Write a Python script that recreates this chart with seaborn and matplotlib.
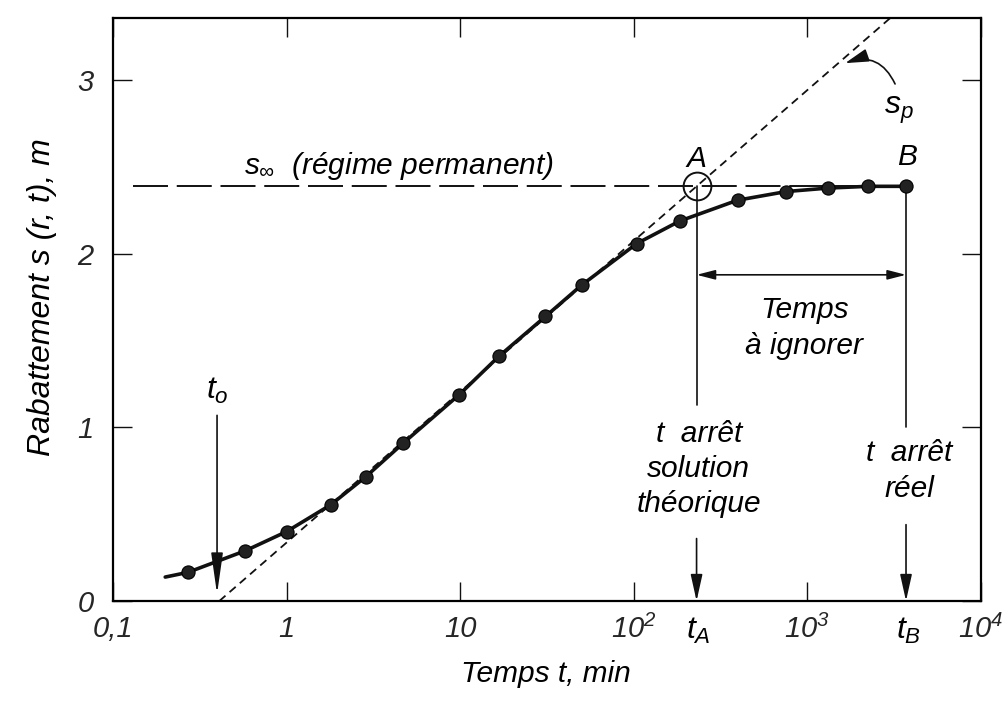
import matplotlib
matplotlib.use("Agg")
import matplotlib.pyplot as plt
from matplotlib import font_manager
import pandas as pd
import seaborn as sns

# Drawdown readings of the pumping test (time in min, drawdown in m)
t_obs = [0.27, 0.58, 1.0, 1.8, 2.85, 4.7, 9.9, 16.7, 31, 50, 104, 184, 396, 757, 1320, 2240, 3700]
s_obs = [0.165, 0.29, 0.40, 0.555, 0.715, 0.91, 1.19, 1.41, 1.64, 1.82, 2.06, 2.19, 2.31, 2.36, 2.38, 2.39, 2.39]

# start of the fitted drawdown curve
t_curve_start = 0.2
s_curve_start = 0.138

# steady-state drawdown and characteristic times
s_inf = 2.39
t_inf_start = 0.13
t0 = 0.41
tA = 230
tB = t_obs[-1]

x_ticks = [0.1, 1, 10, 100, 1000, 10000]
x_tick_labels = ["0,1", "1", "10", r"$10^{2}$", r"$10^{3}$", r"$10^{4}$"]
y_ticks = [0, 1, 2, 3]
y_tick_labels = ["0", "1", "2", "3"]

installed = {f.name for f in font_manager.fontManager.ttflist}
candidates = ["Liberation Sans", "DejaVu Sans"]
FONT = next(c for c in candidates if c in installed)

sns.set_theme(style="ticks")
plt.rcParams.update({
    "font.family": [FONT, "DejaVu Sans"],
    "font.style": "italic",
    "mathtext.fontset": "custom",
    "mathtext.rm": FONT + ":italic",
    "mathtext.it": FONT + ":italic",
    "mathtext.bf": FONT + ":italic:bold",
    "mathtext.sf": FONT + ":italic",
    "axes.linewidth": 1.6,
    "axes.edgecolor": "black",
    "text.color": "black",
})

INK = "#111111"
fig = plt.figure(figsize=(10.05, 7.04), dpi=100)
ax = fig.add_axes([0.1124, 0.1463, 0.8637, 0.8281])
ax.set_xscale("log")
ax.set_xlim(0.1, 1e4)
ax.set_ylim(0, 3.36)

curve = pd.DataFrame({"t": [t_curve_start] + t_obs, "s": [s_curve_start] + s_obs})
obs = pd.DataFrame({"t": t_obs, "s": s_obs})

# Jacob straight line s_p through t0 and A
ax.axline((t0, 0), (tA, s_inf), color=INK, lw=1.3, ls=(0, (4.5, 3)), zorder=2)
# steady-state level
ax.plot([t_inf_start, tB], [s_inf, s_inf], color=INK, lw=1.4, ls=(0, (18, 4.5)), zorder=2)

sns.lineplot(data=curve, x="t", y="s", ax=ax, color=INK, lw=2.6, sort=True,
             estimator=None, zorder=3)
sns.scatterplot(data=obs, x="t", y="s", ax=ax, color="#222222", s=90,
                edgecolor="#000000", linewidth=0.8, zorder=4)

# point A circled
ax.plot([tA], [s_inf], "o", ms=20, mfc="none", mec=INK, mew=1.4, zorder=5)

ax.set_xlabel("")
ax.set_ylabel("")
ax.set_xticks(x_ticks)
ax.set_xticklabels(x_tick_labels)
ax.set_yticks(y_ticks)
ax.set_yticklabels(y_tick_labels)
ax.minorticks_off()
ax.tick_params(axis="both", which="major", direction="in", length=14, width=1.0,
               top=True, right=True, labelsize=21, color=INK)
ax.tick_params(axis="x", pad=10)
ax.tick_params(axis="y", pad=14)

fs = 21.5
# vertical markers from A and B
ax.plot([tA, tA], [s_inf, 1.13], color=INK, lw=1.2)
ax.plot([tB, tB], [s_inf, 1.0], color=INK, lw=1.2)
arrow = dict(arrowstyle="-|>,head_length=0.9,head_width=0.2", color=INK, lw=1.2,
             shrinkA=0, shrinkB=0, mutation_scale=18)
ax.annotate("", xy=(tA, 0.0), xytext=(tA, 0.36), arrowprops=arrow)
ax.annotate("", xy=(tB, 0.0), xytext=(tB, 0.44), arrowprops=arrow)
ax.text(tA * 1.03, 0.76, "t  arrêt\nsolution\nthéorique", ha="center", va="center",
        fontsize=fs, linespacing=1.33)
ax.text(tB * 1.04, 0.75, "t  arrêt\nréel", ha="center", va="center",
        fontsize=fs, linespacing=1.33)

# t0 arrow
arrow_t0 = dict(arrowstyle="-|>,head_length=1.4,head_width=0.2", color=INK, lw=1.2,
                shrinkA=0, shrinkB=0, mutation_scale=18)
ax.annotate("", xy=(t0 * 0.97, 0.04), xytext=(t0 * 0.97, 1.07), arrowprops=arrow_t0)
ax.text(t0 * 0.97, 1.21, r"$t_{o}$", ha="center", va="center", fontsize=23)

# time span to ignore
ax.annotate("", xy=(tB, 1.88), xytext=(tA, 1.88),
            arrowprops=dict(arrowstyle="<|-|>,head_length=0.7,head_width=0.18", color=INK,
                            lw=1.2, shrinkA=0, shrinkB=0, mutation_scale=16))
ax.text(960, 1.68, "Temps", ha="center", va="center", fontsize=fs)
ax.text(960, 1.47, "à ignorer", ha="center", va="center", fontsize=fs)

# labels of A, B, steady state and s_p
ax.text(tA, 2.55, "A", ha="center", va="center", fontsize=fs)
ax.text(tB * 1.02, 2.56, "B", ha="center", va="center", fontsize=fs)
ax.text(0.565, 2.51, r"$s_{\infty}$  (régime permanent)", ha="left", va="center", fontsize=fs)
ax.text(3350, 2.83, r"$s_{p}$", ha="center", va="center", fontsize=23)
ax.annotate("", xy=(1650, 3.10), xytext=(3200, 2.98),
            arrowprops=dict(arrowstyle="-|>,head_length=0.9,head_width=0.25", color=INK,
                            lw=1.2, shrinkA=0, shrinkB=0, mutation_scale=16,
                            connectionstyle="arc3,rad=0.45"))

# t_A and t_B under the axis
ax.text(tA * 1.03, -0.17, r"$t_{A}$", ha="center", va="center", fontsize=23, clip_on=False)
ax.text(tB * 1.04, -0.17, r"$t_{B}$", ha="center", va="center", fontsize=23, clip_on=False)

fig.text(0.543, 0.042, "Temps t, min", ha="center", va="center", fontsize=21.5)
fig.text(0.042, 0.578, "Rabattement s (r, t), m", ha="center", va="center",
         rotation=90, fontsize=23)

fig.savefig("out.png", dpi=100)
